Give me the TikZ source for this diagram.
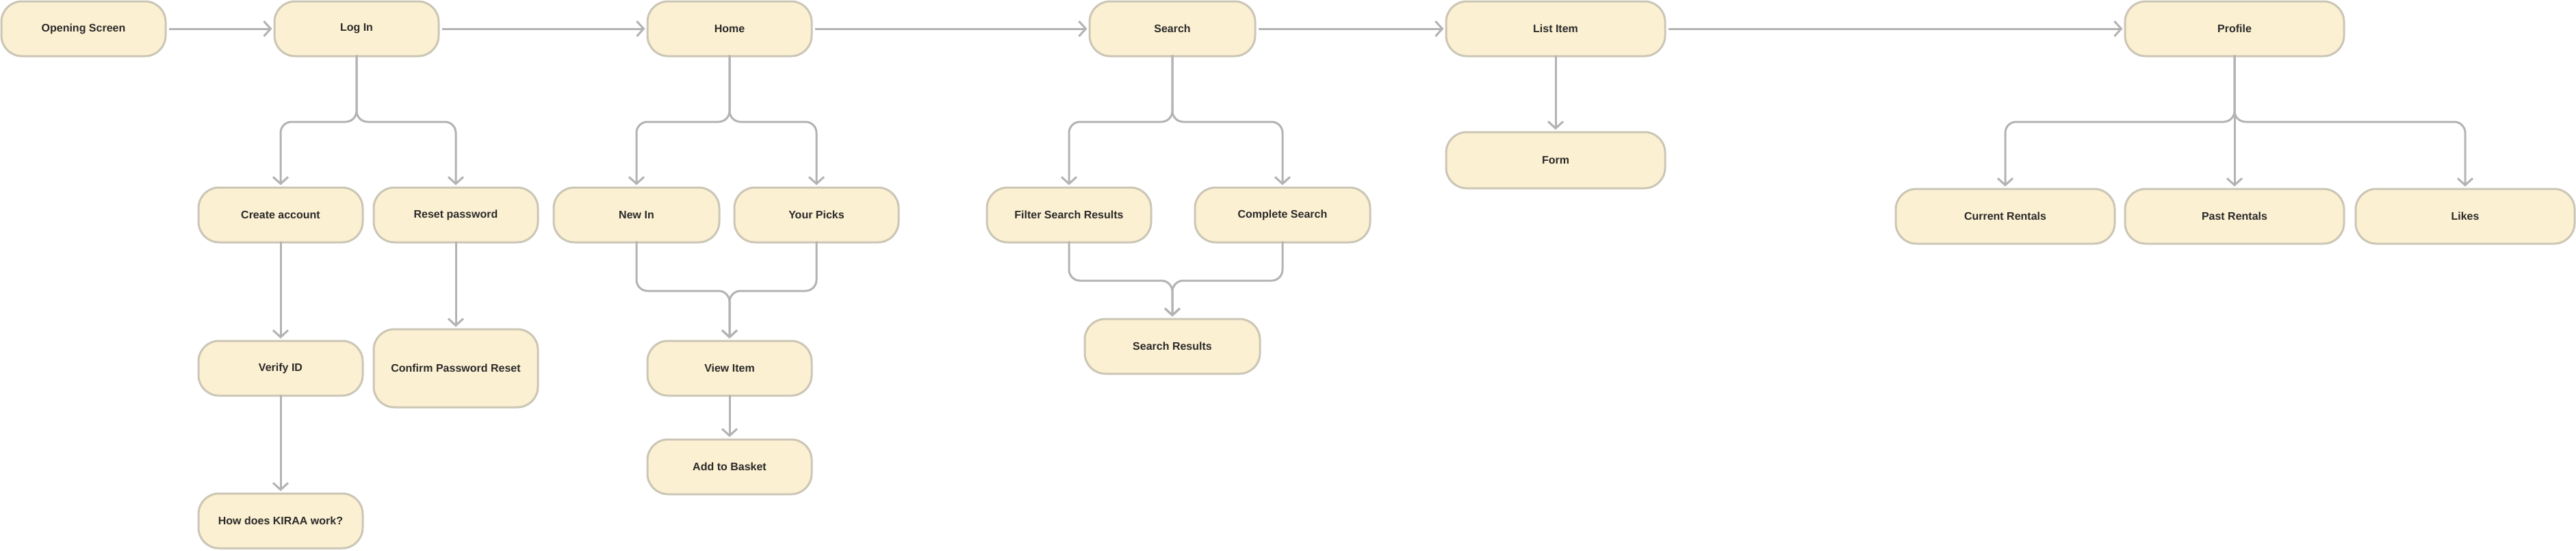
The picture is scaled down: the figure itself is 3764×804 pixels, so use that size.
\documentclass[tikz,border=0pt]{standalone}
\usepackage{fontspec}
\setmainfont{Liberation Sans}
\usetikzlibrary{arrows.meta}
\definecolor{boxfill}{HTML}{FCF0D2}
\definecolor{boxline}{HTML}{CBC6B6}
\definecolor{connline}{HTML}{B3B3B3}
\definecolor{txt}{HTML}{2A2A2A}
\tikzset{
  screen/.style={draw=boxline, fill=boxfill, line width=3pt, rounded corners=30pt,
    minimum width=240pt, minimum height=80pt, inner sep=0pt, text=txt,
    font=\fontsize{16pt}{18pt}\selectfont\bfseries},
  conn/.style={draw=connline, line width=3pt, rounded corners=16pt,
    -{Straight Barb[length=10pt, width=22pt, line width=3pt]}},
}
\begin{document}
\begin{tikzpicture}[x=1pt, y=-1pt]
\useasboundingbox (0,0) rectangle (3764,804);
% top row
\node[screen] (os) at (122,42) {Opening Screen};
\node[screen] (login) at (521,42) {Log In};
\node[screen] (home) at (1066,42) {Home};
\node[screen, minimum width=242pt] (search) at (1713,42) {Search};
\node[screen, minimum width=320pt] (list) at (2273,42) {List Item};
\node[screen, minimum width=320pt] (profile) at (3265,42) {Profile};
% login branch
\node[screen] (ca) at (410,314) {Create account};
\node[screen] (rp) at (666,314) {Reset password};
\node[screen] (vid) at (410,538) {Verify ID};
\node[screen, minimum height=114pt] (cpr) at (666,538) {Confirm Password Reset};
\node[screen] (how) at (410,761) {How does KIRAA work?};
% home branch
\node[screen, minimum width=242pt] (newin) at (930,314) {New In};
\node[screen] (picks) at (1193,314) {Your Picks};
\node[screen] (view) at (1066,538) {View Item};
\node[screen] (basket) at (1066,682) {Add to Basket};
% search branch
\node[screen] (filter) at (1562,314) {Filter Search Results};
\node[screen, minimum width=256pt] (complete) at (1874,314) {Complete Search};
\node[screen, minimum width=256pt] (results) at (1713,506) {Search Results};
% list item
\node[screen, minimum width=320pt, minimum height=82pt] (form) at (2273,234) {Form};
% profile branch
\node[screen, minimum width=320pt] (cur) at (2930,316) {Current Rentals};
\node[screen, minimum width=320pt] (past) at (3265,316) {Past Rentals};
\node[screen, minimum width=320pt] (likes) at (3602,316) {Likes};

% junction coordinates
\coordinate (jlogin) at (521,178);
\coordinate (jhome) at (1066,178);
\coordinate (jsearch) at (1713,178);
\coordinate (jprofile) at (3265,178);
\coordinate (mhome) at (1066,425);
\coordinate (msearch) at (1713,410);

% main row
\draw[conn] ([xshift=3pt]os.east) -- ([xshift=-2pt]login.west);
\draw[conn] ([xshift=3pt]login.east) -- ([xshift=-2pt]home.west);
\draw[conn] ([xshift=3pt]home.east) -- ([xshift=-2pt]search.west);
\draw[conn] ([xshift=3pt]search.east) -- ([xshift=-2pt]list.west);
\draw[conn] ([xshift=3pt]list.east) -- ([xshift=-2pt]profile.west);

% login
\draw[conn] ([yshift=3pt]login.south) |- (ca.north |- jlogin) -- ([yshift=2pt]ca.north);
\draw[conn] ([yshift=3pt]login.south) |- (rp.north |- jlogin) -- ([yshift=2pt]rp.north);
\draw[conn] ([yshift=3pt]ca.south) -- ([yshift=2pt]vid.north);
\draw[conn] ([yshift=3pt]rp.south) -- ([yshift=2pt]cpr.north);
\draw[conn] ([yshift=3pt]vid.south) -- ([yshift=2pt]how.north);

% home
\draw[conn] ([yshift=3pt]home.south) |- (newin.north |- jhome) -- ([yshift=2pt]newin.north);
\draw[conn] ([yshift=3pt]home.south) |- (picks.north |- jhome) -- ([yshift=2pt]picks.north);
\draw[conn] ([yshift=3pt]newin.south) |- (mhome) -- ([yshift=2pt]view.north);
\draw[conn] ([yshift=3pt]picks.south) |- (mhome) -- ([yshift=2pt]view.north);
\draw[conn] ([yshift=3pt]view.south) -- ([yshift=2pt]basket.north);

% search
\draw[conn] ([yshift=3pt]search.south) |- (filter.north |- jsearch) -- ([yshift=2pt]filter.north);
\draw[conn] ([yshift=3pt]search.south) |- (complete.north |- jsearch) -- ([yshift=2pt]complete.north);
\draw[conn] ([yshift=3pt]filter.south) |- (msearch) -- ([yshift=2pt]results.north);
\draw[conn] ([yshift=3pt]complete.south) |- (msearch) -- ([yshift=2pt]results.north);

% list item
\draw[conn] ([yshift=3pt]list.south) -- ([yshift=2pt]form.north);

% profile
\draw[conn] ([yshift=3pt]profile.south) |- (cur.north |- jprofile) -- ([yshift=2pt]cur.north);
\draw[conn] ([yshift=3pt]profile.south) -- ([yshift=2pt]past.north);
\draw[conn] ([yshift=3pt]profile.south) |- (likes.north |- jprofile) -- ([yshift=2pt]likes.north);
\end{tikzpicture}
\end{document}
